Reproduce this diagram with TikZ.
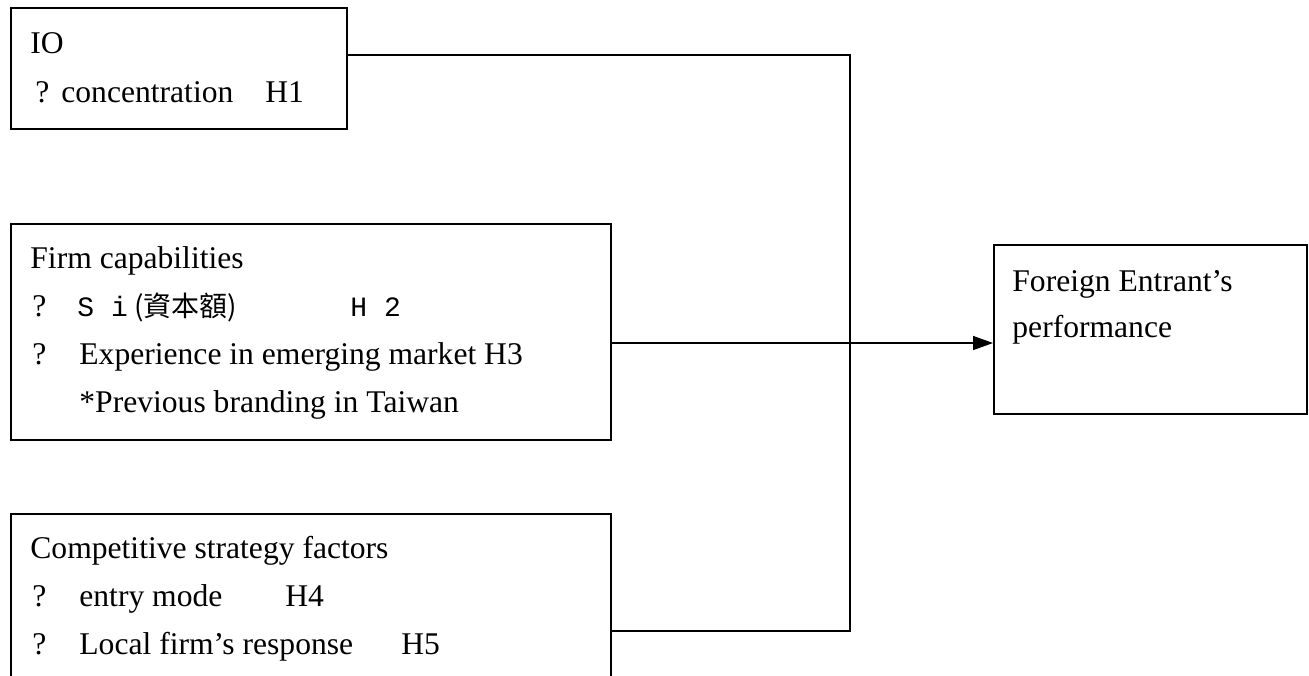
\documentclass[tikz,border=0pt]{standalone}
\usepackage{fontspec}
\setmainfont{Liberation Serif}
\newfontfamily\cjkfont{Noto Sans CJK TC}
\newfontfamily\halfwidth{Liberation Mono}
\usepackage{tikz}
\usetikzlibrary{arrows.meta, positioning, calc}
\tikzset{
  box/.style={draw, line width=0.75pt, rectangle, inner sep=0pt, anchor=north west},
  txt/.style={font=\fontsize{15.8}{18}\selectfont, anchor=base west, inner sep=0pt},
  link/.style={line width=0.75pt},
}

\begin{document}
\begin{tikzpicture}[x=0.5pt, y=-0.5pt]
\useasboundingbox (0,0) rectangle (1309,675);
% Factor boxes
\node[box, minimum width=168pt, minimum height=60.5pt] (io) at (10,7) {};
\node[box, minimum width=300pt, minimum height=108pt] (firm) at (10,223) {};
\node[box, minimum width=300pt, minimum height=90pt] (comp) at (10,513) {};
\node[box, minimum width=156.5pt, minimum height=84.5pt] (fep) at (993,244) {};
%
\node[txt] (io-head) at (30,53) {IO};
\node[txt] (io-q1) at (35,102) {?};
\node[txt] (io-l1) at (61,102) {concentration};
\node[txt] (io-h1) at (265,102) {H1};
%
\node[txt] (firm-head) at (30,268) {Firm capabilities};
\node[txt] (firm-q1) at (32,316) {?};
\node[txt, font=\halfwidth\fontsize{14}{16}\selectfont] (firm-l1) at (77,316) {S i};
\node[txt, font=\cjkfont\fontsize{14}{16}\selectfont] (firm-cjk) at (134,316) {(資本額)};
\node[txt, font=\halfwidth\fontsize{14}{16}\selectfont] (firm-h2) at (350,316) {H 2};
\node[txt] (firm-q2) at (32,364) {?};
\node[txt] (firm-l2) at (79,364) {Experience in emerging market H3};
\node[txt] (firm-l3) at (79,412) {*Previous branding in Taiwan};
%
\node[txt] (comp-head) at (30,558) {Competitive strategy factors};
\node[txt] (comp-q1) at (32,606) {?};
\node[txt] (comp-l1) at (79,606) {entry mode};
\node[txt] (comp-h4) at (285,606) {H4};
\node[txt] (comp-q2) at (32,654) {?};
\node[txt] (comp-l2) at (79,654) {Local firm’s response};
\node[txt] (comp-h5) at (401,654) {H5};
%
\node[txt] (fep-l1) at (1012,291) {Foreign Entrant’s};
\node[txt] (fep-l2) at (1012,337) {performance};
% Links into the junction
\coordinate (jn) at (850,343);
\draw[link] ($(io.north east)+(0,48)$) -| (jn);
\draw[link] ($(comp.north east)+(0,118)$) -| (jn);
\draw[link, -{Triangle[length=10pt, width=7pt]}] (firm.east |- jn) -- (fep.west |- jn);
\end{tikzpicture}
\end{document}
